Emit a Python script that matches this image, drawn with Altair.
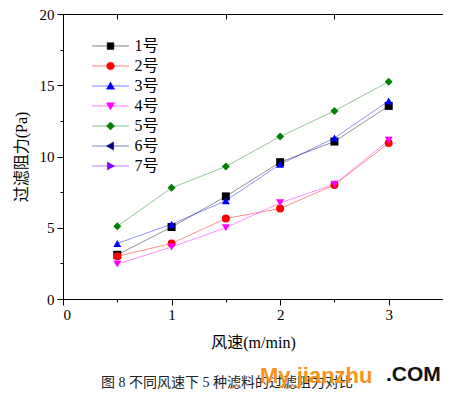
import altair as alt
import pandas as pd

speeds = [0.5, 1.0, 1.5, 2.0, 2.5, 3.0]
series_names = ["1号", "2号", "3号", "4号", "5号", "6号", "7号"]
colors = ["#000000", "#FF0000", "#0000FF", "#FF00FF", "#008000", "#000080", "#8000FF"]
shapes = ["square", "circle", "triangle-up", "triangle-down", "diamond", "triangle-left", "triangle-right"]
values = {
    "1号": [3.1, 5.05, 7.2, 9.6, 11.05, 13.55],
    "2号": [3.0, 3.9, 5.65, 6.35, 8.0, 10.95],
    "3号": [3.9, 5.25, 6.9, 9.45, 11.3, 13.9],
    "4号": [2.45, 3.65, 5.0, 6.75, 8.05, 11.15],
    "5号": [5.1, 7.8, 9.3, 11.4, 13.2, 15.25],
}
y_ticks = [0, 2.5, 5, 7.5, 10, 12.5, 15, 17.5, 20]
x_ticks = [0, 0.5, 1, 1.5, 2, 2.5, 3]
top_ticks = [0.5, 1.5, 2.5]
caption = "图 8 不同风速下 5 种滤料的过滤阻力对比"

rows = []
for s, vals in values.items():
    for xv, yv in zip(speeds, vals):
        rows.append({"speed": xv, "r": yv, "series": s})
df = pd.DataFrame(rows)

FONT = "'Liberation Serif', 'Times New Roman', 'Noto Sans CJK SC', serif"

legend_paths = {
    "square": "M-4.1,0H4.1M-0.75,-0.75H0.75V0.75H-0.75Z",
    "circle": "M-4.1,0H4.1M0.85,0A0.85,0.85 0 1,1 -0.85,0A0.85,0.85 0 1,1 0.85,0Z",
    "triangle-up": "M-4.1,0H4.1M0,-0.9L0.9,0.7H-0.9Z",
    "triangle-down": "M-4.1,0H4.1M0,0.9L-0.9,-0.7H0.9Z",
    "diamond": "M-4.1,0H4.1M0,-0.9L0.9,0L0,0.9L-0.9,0Z",
    "triangle-left": "M-4.1,0H4.1M-0.9,0L0.7,-0.9V0.9Z",
    "triangle-right": "M-4.1,0H4.1M0.9,0L-0.7,-0.9V0.9Z",
}

xscale = alt.Scale(domain=[0, 3.5], nice=False, zero=False)
yscale = alt.Scale(domain=[0, 20], nice=False, zero=False)
cscale = alt.Scale(domain=series_names, range=colors)

leg = alt.Legend(
    orient="none", legendX=39.5, legendY=24, title=None,
    symbolSize=81, symbolStrokeWidth=0.5, symbolOpacity=1, labelFont=FONT, labelFontSize=16,
    labelColor="#000", labelOffset=16, rowPadding=4, padding=0,
)

x_main = alt.X(
    "speed:Q", scale=xscale,
    axis=alt.Axis(
        values=x_ticks, title="风速(m/min)", grid=False,
        labelExpr="datum.value % 1 == 0 ? format(datum.value, 'd') : ''",
        tickSize={"condition": {"test": "datum.value % 1 != 0", "value": 3}, "value": 6},
        labelFont=FONT, labelFontSize=15, labelColor="#000", labelPadding=2,
        titleFont=FONT, titleFontSize=16, titleFontWeight="normal", titleColor="#000",
        titlePadding=12, domainColor="#000", tickColor="#000", orient="bottom",
    ),
)
y_main = alt.Y(
    "r:Q", scale=yscale,
    axis=alt.Axis(
        values=y_ticks, title="过滤阻力(Pa)", grid=False,
        labelExpr="datum.value % 5 == 0 ? format(datum.value, 'd') : ''",
        tickSize={"condition": {"test": "datum.value % 5 != 0", "value": 3}, "value": 6},
        labelFont=FONT, labelFontSize=15, labelColor="#000", labelPadding=3,
        titleFont=FONT, titleFontSize=16, titleFontWeight="normal", titleColor="#000",
        titlePadding=10, domainColor="#000", tickColor="#000", orient="left",
    ),
)

lines = alt.Chart(df).mark_line(strokeWidth=0.8, opacity=0.55).encode(
    x=x_main,
    y=y_main,
    color=alt.Color("series:N", scale=cscale, legend=leg),
    detail="series:N",
)

layers = [lines]
for s, c, sh in zip(series_names, colors, shapes):
    if s not in values:
        continue
    layers.append(
        alt.Chart(df).transform_filter(alt.datum.series == s)
        .mark_point(shape=sh, filled=True, color=c, opacity=1, size=64)
        .encode(
            x=alt.X("speed:Q", scale=xscale, axis=None),
            y=alt.Y("r:Q", scale=yscale, axis=None),
        )
    )

legend_layer = alt.Chart(df).transform_filter("false").mark_point(filled=True).encode(
    x=alt.X("speed:Q", scale=xscale,
            axis=alt.Axis(values=top_ticks, orient="bottom", offset=-285, labels=False,
                          domain=False, grid=False, title=None, tickSize=5, tickColor="#000")),
    y=alt.Y("r:Q", scale=yscale, axis=None),
    color=alt.Color("series:N", scale=cscale, legend=leg),
    stroke=alt.Stroke("series:N", scale=alt.Scale(domain=series_names, range=colors), legend=leg),
    shape=alt.Shape(
        "series:N",
        scale=alt.Scale(domain=series_names, range=[legend_paths[s] for s in shapes]),
        legend=leg,
    ),
)
layers.append(legend_layer)

wm = pd.DataFrame({"a": ["My jianzhu"], "b": [".COM"], "c": [caption]})
wm1 = alt.Chart(wm).mark_text(
    align="left", baseline="middle", font="Liberation Sans, Arial", fontSize=22,
    fontWeight="bold", color="#F7941D",
).encode(text="a:N", x=alt.value(197), y=alt.value(362))
wm2 = alt.Chart(wm).mark_text(
    align="left", baseline="middle", font="Liberation Sans, Arial", fontSize=21,
    fontWeight="bold", color="#111111",
).encode(text="b:N", x=alt.value(323), y=alt.value(361))
cap = alt.Chart(wm).mark_text(
    align="center", baseline="middle", font=FONT, fontSize=14, color="#222",
).encode(text="c:N", x=alt.value(164), y=alt.value(369))
layers = layers[:1] + [cap] + layers[1:] + [wm1, wm2]

chart = alt.layer(*layers).resolve_axis(x="independent", y="independent").properties(
    width=380,
    height=285,
    padding={"left": 55, "top": 6, "right": 0, "bottom": 92},
    autosize=alt.AutoSizeParams(type="none"),
    background="white",
).configure_view(stroke="#000", strokeWidth=1)

chart.save("out.html", embed_options={"renderer": "svg", "actions": False})
